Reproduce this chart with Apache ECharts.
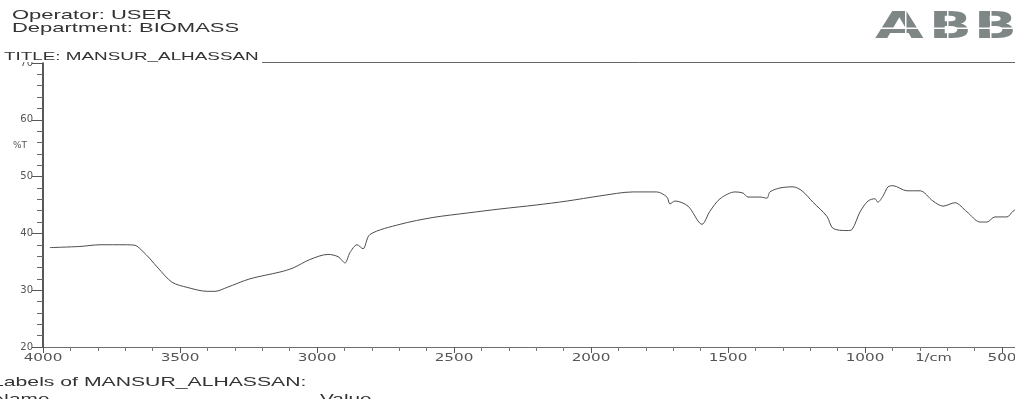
<!DOCTYPE html>
<html>
<head>
<meta charset="utf-8">
<script src="https://cdn.jsdelivr.net/npm/echarts@6/dist/echarts.min.js"></script>
<style>
  html, body { margin: 0; padding: 0; background: #ffffff; }
  #chart { width: 1015px; height: 399px; }
</style>
</head>
<body>
<div id="chart"></div>
<script>
// FTIR spectrum: wavenumber (1/cm) against transmittance (%T)
const wavenumbers = [
  3975, 3865, 3792, 3700, 3664, 3635, 3609, 3580, 3529, 3474,
  3401, 3372, 3328, 3245, 3135, 3088, 3026, 2960, 2923, 2898,
  2880, 2854, 2832, 2807, 2697, 2577, 2450, 2332, 2200, 2087,
  1967, 1847, 1760, 1723, 1712, 1693, 1646, 1595, 1566, 1529,
  1474, 1445, 1427, 1383, 1358, 1347, 1310, 1263, 1230, 1190,
  1139, 1117, 1066, 1047, 1018, 989, 964, 953, 934, 916,
  898, 847, 799, 752, 715, 672, 628, 580, 555, 526,
  482, 460, 440
];
const transmittance = [
  37.5, 37.7, 38.0, 38.0, 37.9, 36.8, 35.5, 33.9, 31.4, 30.5,
  29.8, 29.8, 30.5, 32.0, 33.2, 33.9, 35.4, 36.3, 35.9, 34.8,
  36.6, 38.0, 37.3, 39.8, 41.6, 42.8, 43.6, 44.3, 45.0, 45.7,
  46.6, 47.3, 47.3, 46.4, 45.2, 45.7, 44.8, 41.6, 43.9, 46.1,
  47.3, 47.1, 46.4, 46.4, 46.2, 47.3, 48.0, 48.2, 47.5, 45.5,
  43.0, 40.9, 40.5, 40.7, 43.8, 45.7, 46.1, 45.5, 46.6, 48.2,
  48.4, 47.5, 47.5, 45.7, 44.8, 45.4, 43.8, 42.0, 42.0, 42.9,
  42.9, 43.9, 44.5
];
const xTicks = [4000, 3500, 3000, 2500, 2000, 1500, 1000, 500];
const yTicks = [20, 30, 40, 50, 60, 70];
const unitLabel = '1/cm';
const unitLabelAt = 750;

const spectrum = wavenumbers.map((w, i) => [w, transmittance[i]]);

const chart = echarts.init(document.getElementById('chart'), null, { renderer: 'canvas' });

const textFont = 'Liberation Sans';
const darkText = '#333333';
const logoFill = '#7f8786';

chart.setOption({
  animation: false,
  backgroundColor: '#ffffff',
  grid: { left: 43, top: 63, width: 1096, bottom: 52, containLabel: false, outerBoundsMode: 'none' },
  xAxis: {
    type: 'value',
    inverse: true,
    min: 0,
    max: 4000,
    interval: 500,
    axisLine: { show: true, onZero: false, lineStyle: { color: '#6e6e6e', width: 1 } },
    axisTick: { show: true, length: 6, lineStyle: { color: '#555', width: 1 } },
    minorTick: { show: true, splitNumber: 5, length: 4, lineStyle: { color: '#777', width: 1 } },
    splitLine: { show: false },
    axisLabel: { show: false }
  },
  yAxis: {
    type: 'value',
    min: 20,
    max: 70,
    interval: 10,
    axisLine: { show: true, onZero: false, lineStyle: { color: '#222', width: 1.5 } },
    axisTick: { show: true, length: 11, lineStyle: { color: '#555', width: 1 } },
    minorTick: { show: true, splitNumber: 5, length: 6, lineStyle: { color: '#666', width: 1 } },
    splitLine: { show: false },
    axisLabel: {
      margin: 10,
      fontFamily: 'DejaVu Sans',
      fontSize: 10,
      color: '#555',
      formatter: v => (yTicks.indexOf(v) >= 0 ? String(v) : '')
    }
  },
  series: [{
    type: 'line',
    data: spectrum,
    showSymbol: false,
    smooth: 0.3,
    clip: true,
    lineStyle: { color: '#4d4d4d', width: 1 }
  }]
});

// Wide tick labels along the wavenumber axis, placed through the axis scale
const axisY = chart.convertToPixel({ yAxisIndex: 0 }, 20);
const labelGraphics = xTicks.map(v => ({
  type: 'text', x: chart.convertToPixel({ xAxisIndex: 0 }, v), y: axisY + 11, scaleX: 1.45, z: 10,
  style: { text: String(v), font: '10.5px DejaVu Sans', fill: '#555', textAlign: 'center', textVerticalAlign: 'middle' }
}));
labelGraphics.push({
  type: 'text', x: chart.convertToPixel({ xAxisIndex: 0 }, unitLabelAt), y: axisY + 11, scaleX: 1.4, z: 10,
  style: { text: unitLabel, font: '10.5px DejaVu Sans', fill: '#555', textAlign: 'center', textVerticalAlign: 'middle' }
});

chart.setOption({
  graphic: labelGraphics.concat([
    // header block
    { type: 'text', left: 12, top: 9, scaleX: 1.69, z: 10,
      style: { text: 'Operator: USER', font: '13px ' + textFont, fill: darkText } },
    { type: 'text', left: 12, top: 22, scaleX: 1.69, z: 10,
      style: { text: 'Department: BIOMASS', font: '13px ' + textFont, fill: darkText } },
    { type: 'rect', z: 9, shape: { x: 0, y: 44, width: 262, height: 18 },
      style: { fill: '#ffffff' } },
    { type: 'text', left: 4, top: 51, scaleX: 1.64, z: 10,
      style: { text: 'TITLE: MANSUR_ALHASSAN', font: '11.5px ' + textFont, fill: darkText } },
    { type: 'line', z: 10, shape: { x1: 262, y1: 62.5, x2: 1015, y2: 62.5 },
      style: { stroke: '#666', lineWidth: 1 } },
    { type: 'text', left: 13, top: 141, z: 10,
      style: { text: '%T', font: '9px DejaVu Sans', fill: '#555' } },
    // logo
    { type: 'text', x: 875, y: 28, scaleX: 1.7, z: 10,
      style: { text: 'A', font: '900 37px DejaVu Sans', fill: logoFill, textVerticalAlign: 'middle' } },
    { type: 'text', x: 929, y: 28, scaleX: 1.52, z: 10,
      style: { text: 'B', font: '900 37px DejaVu Sans', fill: logoFill, textVerticalAlign: 'middle' } },
    { type: 'text', x: 974, y: 28, scaleX: 1.52, z: 10,
      style: { text: 'B', font: '900 37px DejaVu Sans', fill: logoFill, textVerticalAlign: 'middle' } },
    { type: 'rect', z: 11, shape: { x: 870, y: 27.5, width: 145, height: 1.5 }, style: { fill: '#ffffff' } },
    { type: 'rect', z: 11, shape: { x: 905, y: 10, width: 1.5, height: 34 }, style: { fill: '#ffffff' } },
    { type: 'rect', z: 11, shape: { x: 947, y: 10, width: 1.5, height: 34 }, style: { fill: '#ffffff' } },
    { type: 'rect', z: 11, shape: { x: 990, y: 10, width: 1.5, height: 34 }, style: { fill: '#ffffff' } },
    // footer
    { type: 'text', left: -8, top: 376, scaleX: 1.63, z: 10,
      style: { text: 'Labels of MANSUR_ALHASSAN:', font: '13px ' + textFont, fill: darkText } },
    { type: 'text', left: -6, top: 393, scaleX: 1.6, z: 10,
      style: { text: 'Name', font: '13px ' + textFont, fill: darkText } },
    { type: 'text', left: 320, top: 393, scaleX: 1.6, z: 10,
      style: { text: 'Value', font: '13px ' + textFont, fill: darkText } }
  ])
});
</script>
</body>
</html>
